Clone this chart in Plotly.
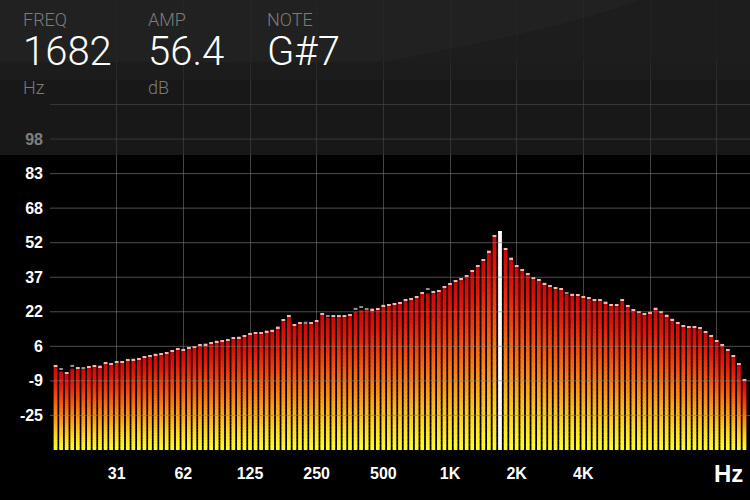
import numpy as np
import plotly.graph_objects as go
from plotly.colors import sample_colorscale

# ---------------- data ----------------
ref_hz = 31.25
band_index = list(range(-11, 114))          # 1/12-octave bands
band_freq = [ref_hz * 2 ** (n / 12) for n in band_index]

level_db = [
    -2.7, -5.4, -5.8, -4.2, -3.6, -3.9, -3.2, -2.9, -2.9, -1.4, -1.7,
    -0.9, -0.8, -0.1, 0.2, 0.5, 1.3, 1.7, 2.4, 2.7, 3.1, 3.9, 4.8, 4.6,
    5.5, 5.9, 6.6, 6.9, 7.5, 8.2, 8.5, 9.0, 9.7, 10.0, 10.6, 11.7, 12.0,
    12.0, 12.7, 13.1, 14.5, 17.7, 19.4, 15.5, 16.1, 15.7, 16.4, 17.3, 20.4,
    18.5, 19.4, 19.4, 19.7, 20.1, 21.1, 21.8, 21.9, 22.5, 22.8, 24.2, 24.6,
    24.9, 25.4, 26.6, 27.1, 28.0, 29.8, 29.3, 30.2, 30.8, 32.6, 33.8, 35.1,
    36.1, 37.3, 39.7, 41.8, 44.6, 48.3, 55.1, 56.8, 49.4, 45.2, 41.9, 40.0,
    38.2, 36.4, 35.6, 34.0, 32.9, 32.1, 31.7, 28.9, 29.1, 28.9, 28.1, 27.5,
    26.6, 26.6, 25.6, 24.4, 24.4, 26.6, 24.1, 22.3, 21.4, 20.4, 21.1, 22.9,
    21.4, 19.8, 18.0, 16.5, 15.2, 14.8, 14.6, 14.2, 12.4, 10.6, 8.4, 6.6,
    4.4, 1.7, -1.8, -9.0,
]

# peak-hold markers that sit above the current level
peak_bands = [-10, -8, -6, -4, 33, 34, 38, 43, 44, 45, 56, 81]
peak_levels = [-4.1, -2.5, -3.5, -2.6, 16.4, 16.7, 19.5, 22.9, 23.5, 22.6, 31.5, 29.9]

selected_hz = 1682
amp_db = "56.4"
note_name = "G#7"

x_tick_hz = [31.25, 62.5, 125, 250, 500, 1000, 2000, 4000, 8000, 16000]
x_tick_text = ["31", "62", "125", "250", "500", "1K", "2K", "4K", "", ""]

y_tick_vals = [98 - 15.375 * k for k in range(9)]
y_tick_text = ["98", "83", "68", "52", "37", "22", "6", "-9", "-25"]
y_extra_grid = [113.375]

floor_db = -40.4
top_db = 159.9

# ---------------- figure ----------------
xs = np.log2(band_freq)
lv = np.array(level_db)
sel = int(np.argmin(np.abs(np.log2(np.array(band_freq) / selected_hz))))

peaks = lv.copy()
for b, p in zip(peak_bands, peak_levels):
    peaks[band_index.index(b)] = p

cscale = [[0, "#ffff2c"], [0.18, "#ffd520"], [0.4, "#ff9012"],
          [0.65, "#f5460a"], [0.85, "#e01608"], [1, "#c80606"]]
N = 36
seg_cols = sample_colorscale(cscale, [(k + 0.5) / N for k in range(N)])
bar_w = 0.056

fig = go.Figure()
heights = lv - floor_db
for k in range(N):
    seg = heights / N
    base = floor_db + seg * k
    hh = seg + (0.3 if k < N - 1 else 0)
    cols = [seg_cols[k]] * len(lv)
    cols[sel] = "#ffffff"
    fig.add_trace(go.Bar(x=xs, y=hh, base=base, width=bar_w,
                         marker=dict(color=cols, line=dict(width=0)),
                         hoverinfo="skip", showlegend=False))

cap_h = 0.6
cap_cols = ["#8e8e8e" if peaks[i] - lv[i] > 0.3 else "#f4b8b4" for i in range(len(lv))]
cap_cols[sel] = "#ffffff"
fig.add_trace(go.Bar(x=xs, y=[cap_h] * len(lv), base=peaks - cap_h, width=bar_w,
                     marker=dict(color=cap_cols, line=dict(width=0)),
                     hoverinfo="skip", showlegend=False))

shapes = []
for v in y_tick_vals + y_extra_grid:
    shapes.append(dict(type="line", xref="paper", x0=0, x1=1, yref="y", y0=v, y1=v,
                       line=dict(color="rgba(130,130,130,0.6)", width=1), layer="above"))

def py(p):
    return (450 - p) / 450

xl = -50 / 700
shapes += [
    dict(type="rect", xref="paper", yref="paper", x0=xl, x1=1, y0=py(155), y1=1,
         fillcolor="#282828", opacity=0.6, line=dict(width=0), layer="above"),
    dict(type="rect", xref="paper", yref="paper", x0=xl, x1=1, y0=py(62), y1=1,
         fillcolor="#1f1f1f", opacity=0.85, line=dict(width=0), layer="above"),
    dict(type="rect", xref="paper", yref="paper", x0=xl, x1=1, y0=py(80), y1=py(62),
         fillcolor="#1f1f1f", opacity=0.5, line=dict(width=0), layer="above"),
    dict(type="path", xref="paper", yref="paper", layer="above",
         path=f"M {(380-50)/700},{py(0)} L {(640-50)/700},{py(0)} "
              f"Q {(560-50)/700},{py(30)} {(380-50)/700},{py(62)} L {xl},{py(62)} L {xl},{py(0)} Z",
         fillcolor="#3a3a3a", opacity=0.15, line=dict(width=0)),
]

hdr_font = "Roboto"
ann = []
def label(x, y, text, size, color, weight=300):
    ann.append(dict(xref="paper", yref="paper", x=(x - 50) / 700, y=py(y), text=text,
                    showarrow=False, xanchor="left", yanchor="middle",
                    font=dict(family=hdr_font, size=size, color=color, weight=weight)))

label(21, 20, "FREQ", 18, "#7c7c7c")
label(21, 52, str(selected_hz), 40, "#ffffff")
label(21, 87, "Hz", 18, "#7c7c7c")
label(146, 20, "AMP", 18, "#7c7c7c")
label(146, 52, amp_db, 40, "#ffffff")
label(146, 87, "dB", 18, "#7c7c7c")
label(265, 20, "NOTE", 18, "#7c7c7c")
label(265, 52, note_name, 40, "#ffffff")

ann.append(dict(xref="paper", yref="paper", x=(728 - 50) / 700, y=py(473), text="Hz",
                showarrow=False, xanchor="center", yanchor="middle",
                font=dict(family="Liberation Sans", size=24, color="#ffffff", weight="bold")))

fig.update_layout(
    width=750, height=500,
    margin=dict(l=50, r=0, t=0, b=50),
    paper_bgcolor="#000000", plot_bgcolor="#000000",
    barmode="overlay", showlegend=False,
    shapes=shapes, annotations=ann,
    xaxis=dict(range=[np.log2(15.625), np.log2(31.25) + 9.5],
               tickvals=list(np.log2(x_tick_hz)), ticktext=x_tick_text,
               showgrid=True, gridcolor="#444444", gridwidth=1, zeroline=False,
               showline=False, ticks="", fixedrange=True,
               tickfont=dict(family="Liberation Sans", size=16, color="#ffffff", weight="bold"),
               ticklabelstandoff=12),
    yaxis=dict(range=[floor_db, top_db], tickvals=y_tick_vals, ticktext=y_tick_text,
               showgrid=False, zeroline=False, showline=False, ticks="", fixedrange=True,
               tickfont=dict(family="Liberation Sans", size=16, color="#ffffff", weight="bold"),
               ticklabelstandoff=6),
)

fig.write_html("out.html", config={"displayModeBar": False},
               post_script="document.body.style.margin='0';document.body.style.background='#000';")
